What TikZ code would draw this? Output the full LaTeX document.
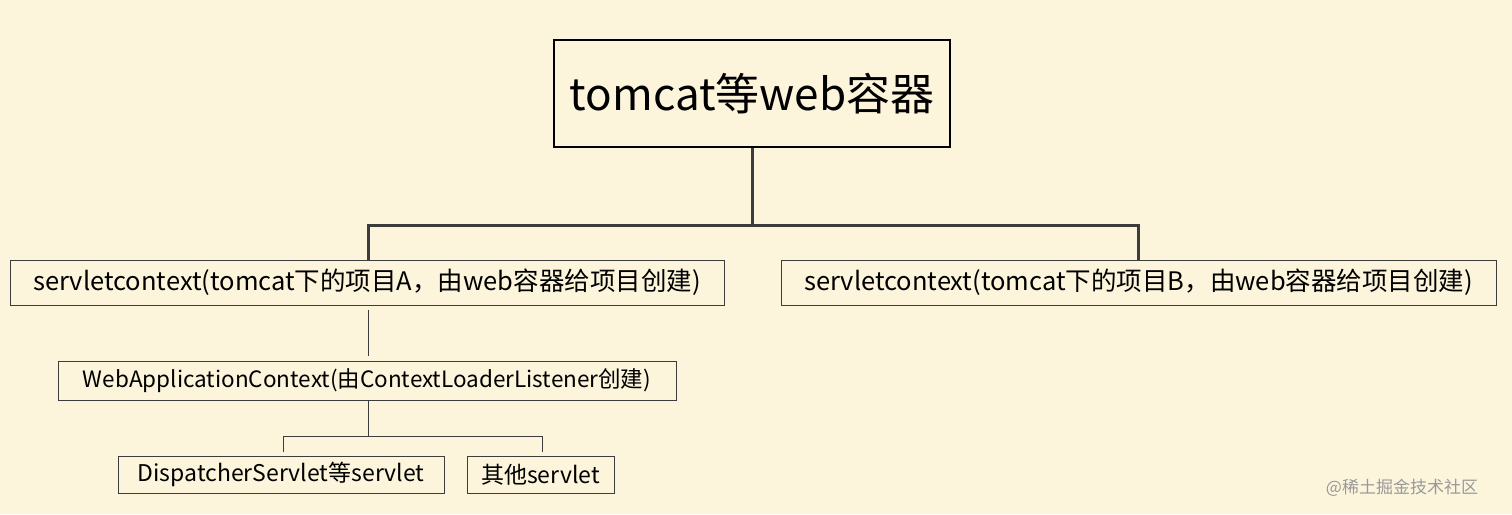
\documentclass[tikz,border=0pt]{standalone}
\usepackage{fontspec}
\setmainfont{Noto Sans CJK SC}
\definecolor{bg}{HTML}{FCF5DC}
\definecolor{ln}{HTML}{3C3C3C}
\begin{document}
\begin{tikzpicture}[x=1pt,y=-1pt,
  bx/.style={draw=ln,line width=0.8pt,fill=bg,inner sep=0pt},
  thin/.style={draw=ln,line width=0.7pt},
  thick/.style={draw=ln,line width=3pt}]
\fill[bg] (0,0) rectangle (1512,514);
\useasboundingbox (0,0) rectangle (1512,514);
\node[draw=black,line width=2.5pt,fill=bg,minimum width=396pt,minimum height=107pt,font=\fontsize{44}{48}\selectfont] (top) at (752,93.5) {tomcat等web容器};
\node[bx,minimum width=714pt,minimum height=45pt,font=\fontsize{25.5}{28}\selectfont] (a) at (367,282.5) {servletcontext(tomcat下的项目A，由web容器给项目创建)};
\node[bx,minimum width=715pt,minimum height=45pt,font=\fontsize{25.5}{28}\selectfont] (b) at (1138.5,282.5) {servletcontext(tomcat下的项目B，由web容器给项目创建)};
\node[bx,minimum width=618pt,minimum height=39pt,font=\fontsize{22.5}{26}\selectfont] (w) at (367,380.5) {WebApplicationContext(由ContextLoaderListener创建)};
\node[bx,minimum width=326pt,minimum height=37pt,font=\fontsize{23}{26}\selectfont] (d) at (281,474.5) {DispatcherServlet等servlet};
\node[bx,minimum width=147pt,minimum height=37pt,font=\fontsize{23}{26}\selectfont] (o) at (540.5,474.5) {其他servlet};
\coordinate (j1) at (752,225);
\draw[thick] (top.south) -- (j1);
\draw[thick] (a.north -| 368,0) -- (368,225) -- (1138,225) -- (b.north -| 1138,0);
\draw[thin] (368,310) -- (368,356);
\draw[thin] (w.south -| 368,0) -- (368,436);
\draw[thin] (283,452) -- (283,436) -- (542,436) -- (542,452);
\node[text=gray!80,font=\fontsize{17}{19}\selectfont] (wm) at (1402,488) {@稀土掘金技术社区};
\end{tikzpicture}
\end{document}
